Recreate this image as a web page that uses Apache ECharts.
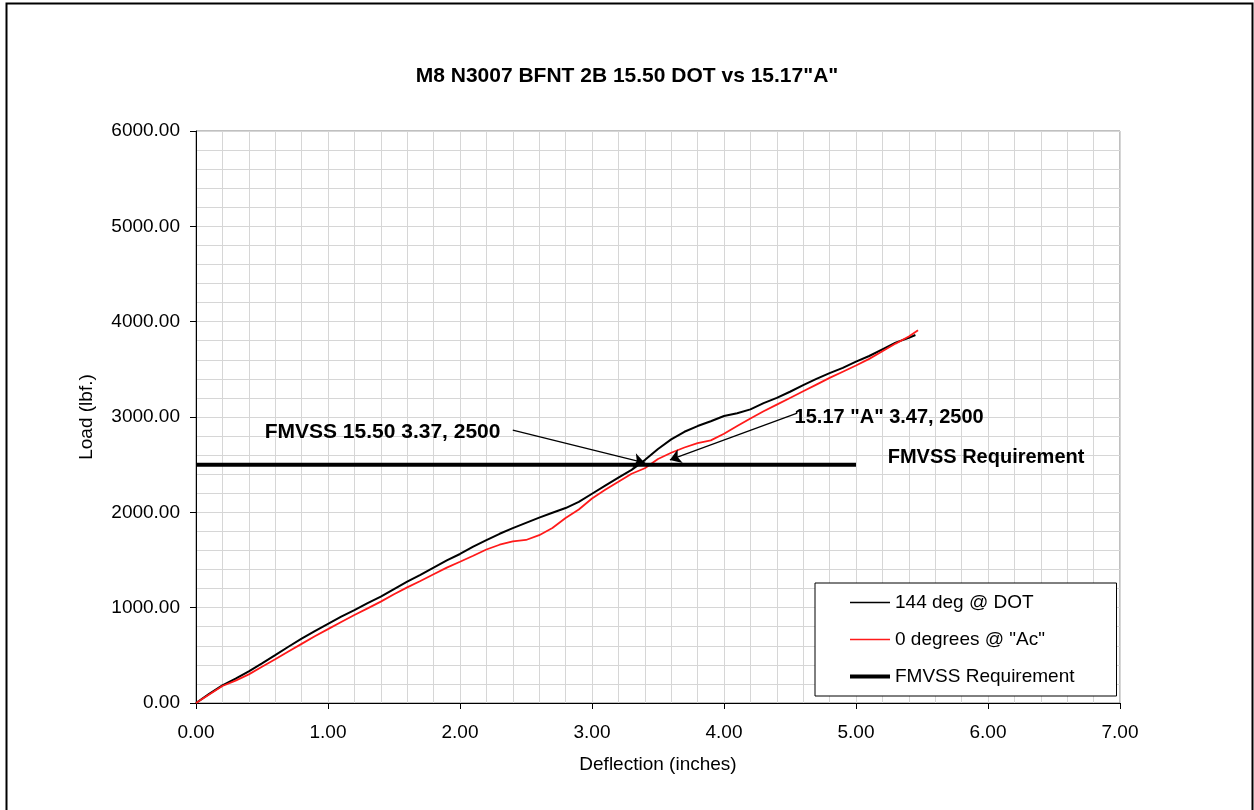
<!DOCTYPE html>
<html>
<head>
<meta charset="utf-8">
<script src="https://cdn.jsdelivr.net/npm/echarts@6/dist/echarts.min.js"></script>
<style>html,body{margin:0;padding:0;background:#fff;}#c{width:1254px;height:810px;}</style>
</head>
<body>
<div id="c"></div>
<script>
const titleText = 'M8 N3007 BFNT 2B 15.50 DOT vs 15.17"A"';
const xName = 'Deflection (inches)';
const yName = 'Load (lbf.)';
const seriesNames = ['144 deg @ DOT', '0 degrees @ "Ac"', 'FMVSS Requirement'];

const dotX = [0,0.1,0.2,0.3,0.4,0.5,0.6,0.7,0.8,0.9,1.0,1.1,1.2,1.3,1.4,1.5,1.6,1.7,1.8,1.9,2.0,2.1,2.2,2.3,2.4,2.5,2.6,2.7,2.8,2.9,3.0,3.1,3.2,3.3,3.4,3.5,3.6,3.7,3.8,3.9,4.0,4.1,4.2,4.3,4.4,4.5,4.6,4.7,4.8,4.9,5.0,5.1,5.2,5.3,5.4,5.45];
const dotY = [0,95,185,255,332,415,502,590,676,755,830,905,975,1048,1115,1195,1272,1345,1420,1495,1563,1640,1708,1775,1835,1890,1945,1995,2045,2110,2195,2280,2365,2445,2548,2665,2765,2845,2905,2955,3010,3040,3080,3145,3200,3265,3335,3400,3460,3515,3580,3640,3710,3780,3830,3860];

const acX = [0,0.1,0.2,0.3,0.4,0.5,0.6,0.7,0.8,0.9,1.0,1.1,1.2,1.3,1.4,1.5,1.6,1.7,1.8,1.9,2.0,2.1,2.2,2.3,2.4,2.5,2.6,2.7,2.8,2.9,3.0,3.1,3.2,3.3,3.4,3.5,3.6,3.7,3.8,3.9,4.0,4.1,4.2,4.3,4.4,4.5,4.6,4.7,4.8,4.9,5.0,5.1,5.2,5.3,5.4,5.47];
const acY = [0,90,178,235,300,380,458,540,620,700,775,850,923,993,1063,1140,1213,1280,1350,1420,1482,1545,1610,1660,1695,1710,1760,1835,1940,2030,2145,2236,2320,2405,2462,2560,2625,2680,2725,2755,2825,2905,2985,3060,3130,3200,3270,3340,3410,3475,3540,3610,3690,3770,3845,3910];

const reqX = [0, 5];
const reqY = [2500, 2500];

const xTicks = [0,1,2,3,4,5,6,7];
const yTicks = [0,1000,2000,3000,4000,5000,6000];

const noteTexts = ['FMVSS 15.50 3.37, 2500', '15.17 "A" 3.47, 2500', 'FMVSS Requirement'];
const noteX = [0.52, 4.535, 5.24];
const noteY = [2843, 2990, 2580];

const arrowFromX = [2.40, 4.555];
const arrowFromY = [2862, 3040];
const arrowToX = [3.40, 3.59];
const arrowToY = [2518, 2550];

const zip = (a, b) => a.map((v, i) => [v, b[i]]);
const FONT = '"Liberation Sans", Arial, sans-serif';
const noteSizes = [21, 20, 20];
const legendWidths = [1.5, 1.5, 4];
const legendColors = ['#000', '#ff1a1a', '#000'];

const chart = echarts.init(document.getElementById('c'));
chart.setOption({
  animation: false,
  backgroundColor: '#fff',
  textStyle: { fontFamily: FONT },
  title: {
    text: titleText, left: 'center', top: 61,
    textStyle: { fontFamily: FONT, fontSize: 21, fontWeight: 'bold', color: '#000' }
  },
  graphic: [{
    type: 'rect', left: 4, top: 1, shape: { width: 1246, height: 830 },
    style: { fill: 'none', stroke: '#000', lineWidth: 2 }, silent: true, z: 100
  }],
  grid: { left: 196, right: 134, top: 131, bottom: 107, show: true, borderColor: '#808080', borderWidth: 1 },
  xAxis: {
    type: 'value', min: 0, max: 7, interval: 1,
    name: xName, nameLocation: 'middle', nameGap: 52,
    nameTextStyle: { fontFamily: FONT, fontSize: 19, color: '#000' },
    axisLine: { show: true, onZero: false, lineStyle: { color: '#000', width: 1 } },
    axisTick: { show: true, length: 6, lineStyle: { color: '#000' } },
    axisLabel: { margin: 20, fontSize: 19, color: '#000', fontFamily: FONT, formatter: v => v.toFixed(2) },
    splitLine: { show: true, lineStyle: { color: '#d6d6d6', width: 1 } },
    minorTick: { show: false, splitNumber: 5 },
    minorSplitLine: { show: true, lineStyle: { color: '#d6d6d6', width: 1 } }
  },
  yAxis: {
    type: 'value', min: 0, max: 6000, interval: 1000,
    name: yName, nameLocation: 'middle', nameGap: 100, nameRotate: 90,
    nameTextStyle: { fontFamily: FONT, fontSize: 19, color: '#000' },
    axisLine: { show: true, onZero: false, lineStyle: { color: '#000', width: 1 } },
    axisTick: { show: true, length: 6, lineStyle: { color: '#000' } },
    axisLabel: { margin: 16, fontSize: 19, color: '#000', fontFamily: FONT, formatter: v => v.toFixed(2) },
    splitLine: { show: true, lineStyle: { color: '#d6d6d6', width: 1 } },
    minorTick: { show: false, splitNumber: 5 },
    minorSplitLine: { show: true, lineStyle: { color: '#d6d6d6', width: 1 } }
  },
  legend: {
    data: seriesNames.map((n, i) => ({
      name: n,
      itemStyle: { opacity: 0 },
      lineStyle: { width: legendWidths[i], color: legendColors[i] }
    })),
    orient: 'vertical', left: 815, top: 583,
    padding: [10, 42, 10, 33], itemGap: 18, itemWidth: 40, itemHeight: 14,
    backgroundColor: '#fff', borderColor: '#000', borderWidth: 1, borderRadius: 0,
    itemStyle: { opacity: 0 },
    textStyle: { fontFamily: FONT, fontSize: 19, color: '#000' }
  },
  series: [
    {
      name: seriesNames[0], type: 'line', data: zip(dotX, dotY), symbol: 'none',
      lineStyle: { color: '#000', width: 2 }, itemStyle: { color: '#000' }, z: 3
    },
    {
      name: seriesNames[1], type: 'line', data: zip(acX, acY), symbol: 'none',
      lineStyle: { color: '#ff1a1a', width: 1.8 }, itemStyle: { color: '#ff1a1a' }, z: 4
    },
    {
      name: seriesNames[2], type: 'line', data: zip(reqX, reqY), symbol: 'none',
      lineStyle: { color: '#000', width: 4 }, itemStyle: { color: '#000' }, z: 5,
      markLine: {
        silent: true, symbol: ['none', 'arrow'], symbolSize: 11,
        lineStyle: { color: '#000', width: 1.2, type: 'solid' },
        label: { show: false },
        data: arrowFromX.map((x, i) => [
          { coord: [x, arrowFromY[i]] },
          { coord: [arrowToX[i], arrowToY[i]] }
        ])
      }
    },
    {
      name: 'notes', type: 'scatter', symbolSize: 0, z: 10,
      silent: true, itemStyle: { opacity: 1, color: '#000' },
      data: noteX.map((x, i) => ({ value: [x, noteY[i]], label: { fontSize: noteSizes[i] } })),
      label: {
        show: true, position: 'right', distance: 0, opacity: 1,
        formatter: p => noteTexts[p.dataIndex],
        fontFamily: FONT, fontSize: 20, fontWeight: 'bold', color: '#000'
      }
    }
  ]
});
</script>
</body>
</html>
